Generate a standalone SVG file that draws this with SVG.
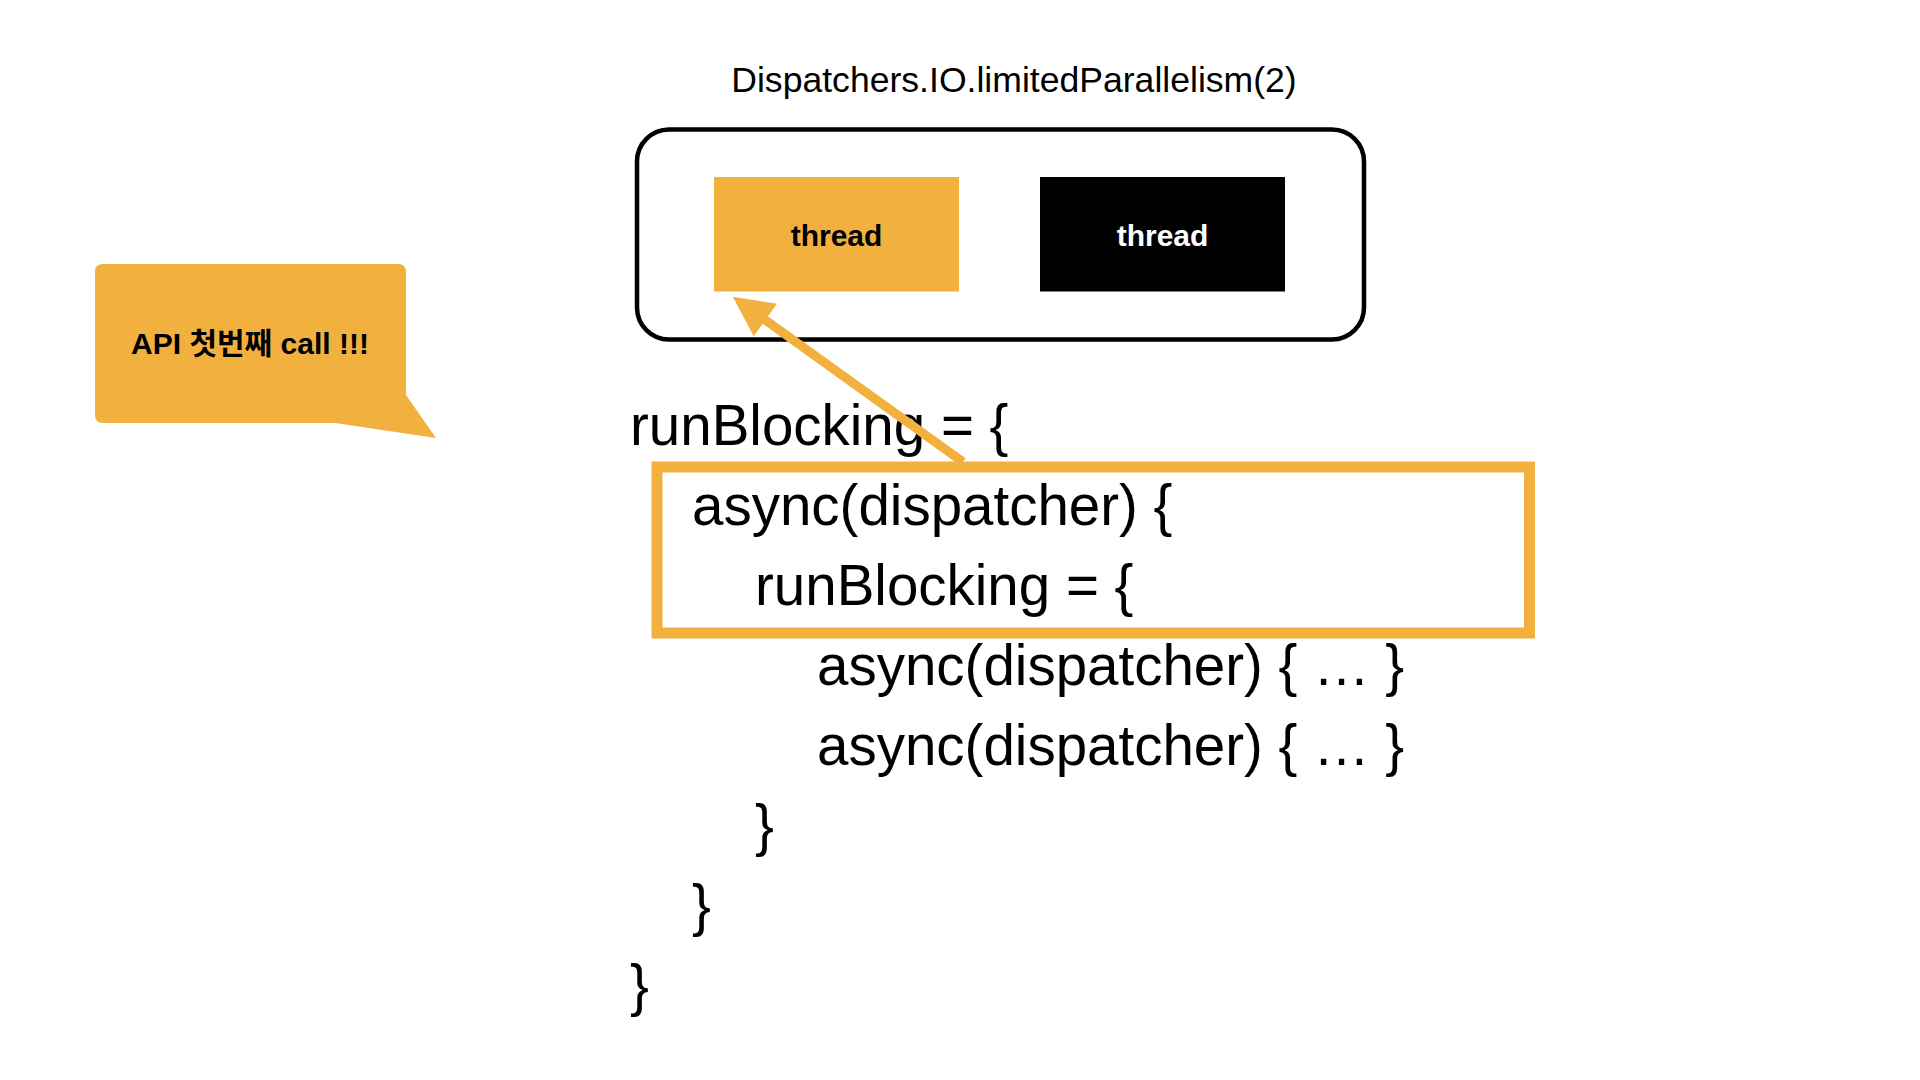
<svg xmlns="http://www.w3.org/2000/svg" width="1920" height="1080" viewBox="0 0 1920 1080">
  <style>
    .t { font-family: "Liberation Sans", Arial, "Noto Sans CJK KR", sans-serif; fill: #000; }
    .code { font-size: 56.5px; }
    .title { font-size: 35.6px; }
    .thread { font-size: 30px; font-weight: bold; text-anchor: middle; }
    .orange { fill: #F2B13F; }
  </style>
  <defs>
    <marker id="head" markerUnits="userSpaceOnUse" markerWidth="42" markerHeight="42" refX="1" refY="20" orient="auto" overflow="visible">
      <path d="M0,0 L40,20 L0,40 Z" fill="#F2B13F"/>
    </marker>
  </defs>
  <rect width="1920" height="1080" fill="#fff"/>

  <g id="dispatcher">
    <text class="t title" x="1014" y="92" text-anchor="middle">Dispatchers.IO.limitedParallelism(2)</text>
    <rect x="637" y="129.5" width="727" height="210" rx="32" ry="32" fill="none" stroke="#000" stroke-width="4.5"/>
  </g>

  <g id="thread1">
    <rect class="orange" x="714" y="177" width="245" height="114.5"/>
    <text class="t thread" x="836.5" y="246">thread</text>
  </g>

  <g id="thread2">
    <rect x="1040" y="177" width="245" height="114.5" fill="#000"/>
    <text class="t thread" x="1162.5" y="246" style="fill:#fff">thread</text>
  </g>

  <g id="callout">
    <path class="orange" d="M103,264 H398 Q406,264 406,272 V395 L436,438 L335,423 H103 Q95,423 95,415 V272 Q95,264 103,264 Z"/>
    <text class="t" x="250" y="354" text-anchor="middle" font-size="30" font-weight="bold">API 첫번째 call !!!</text>
  </g>

  <g id="code">
    <text class="t code" x="630" y="445">runBlocking = {</text>
    <text class="t code" x="692" y="525">async(dispatcher) {</text>
    <text class="t code" x="755" y="605">runBlocking = {</text>
    <text class="t code" x="817" y="685">async(dispatcher) { … }</text>
    <text class="t code" x="817" y="765">async(dispatcher) { … }</text>
    <text class="t code" x="755" y="845">}</text>
    <text class="t code" x="692" y="925">}</text>
    <text class="t code" x="630" y="1005">}</text>
  </g>

  <g id="highlight">
    <rect x="657" y="467" width="872.5" height="166" fill="none" stroke="#F2B13F" stroke-width="11"/>
  </g>

  <g id="connectors">
    <line x1="963" y1="462" x2="764.5" y2="319.5" stroke="#F2B13F" stroke-width="9" marker-end="url(#head)"/>
  </g>
</svg>
